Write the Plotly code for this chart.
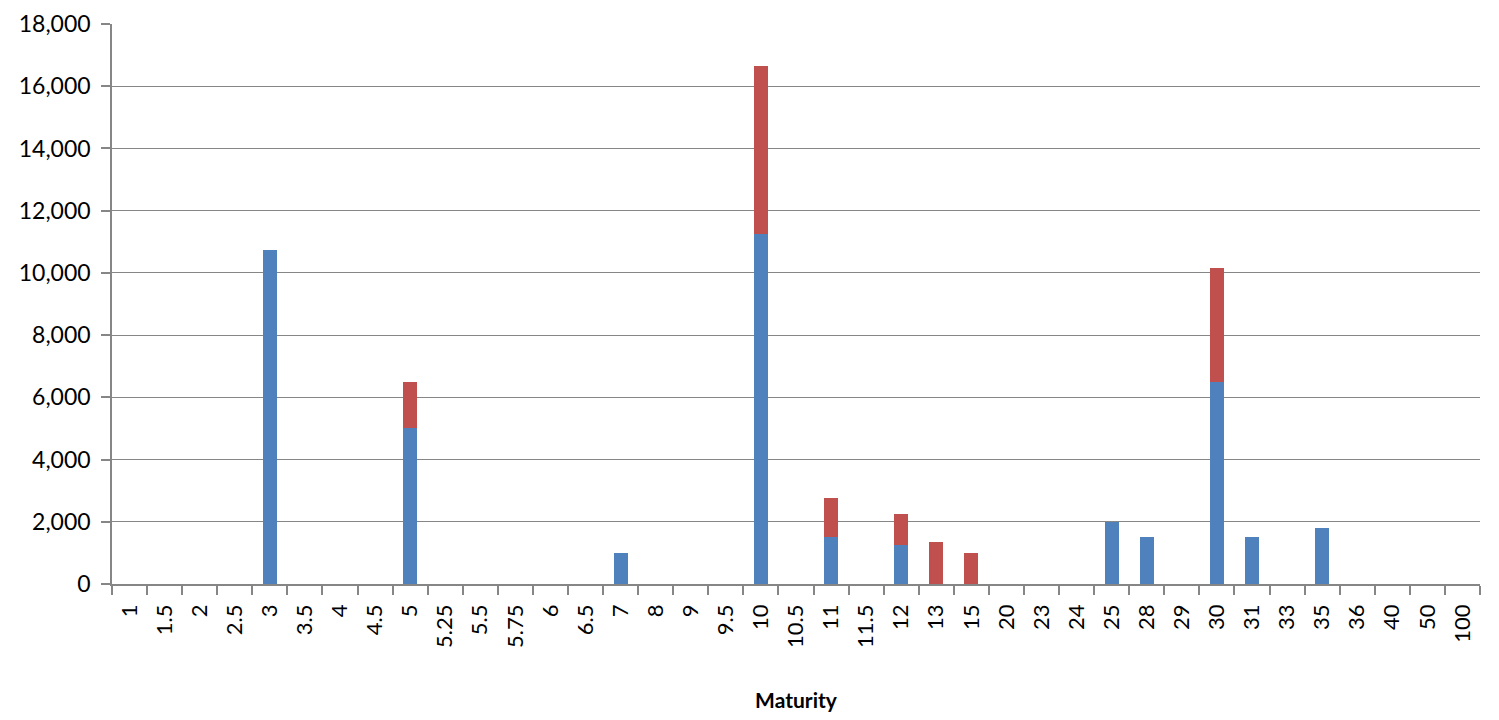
import plotly.graph_objects as go

categories = ["1", "1.5", "2", "2.5", "3", "3.5", "4", "4.5", "5", "5.25", "5.5", "5.75",
              "6", "6.5", "7", "8", "9", "9.5", "10", "10.5", "11", "11.5", "12", "13",
              "15", "20", "23", "24", "25", "28", "29", "30", "31", "33", "35", "36",
              "40", "50", "100"]

blue_values = {"3": 10750, "5": 5000, "7": 1000, "10": 11250, "11": 1500, "12": 1250,
               "25": 2000, "28": 1500, "30": 6500, "31": 1500, "35": 1800}
red_values = {"5": 1500, "10": 5400, "11": 1250, "12": 1000, "13": 1350, "15": 1000,
              "30": 3650}

blue = [blue_values.get(c, 0) for c in categories]
red = [red_values.get(c, 0) for c in categories]

tick_vals = list(range(0, 18001, 2000))
tick_text = [f"{v:,}" for v in tick_vals]

FONT = "Lato"
GRID = "#868686"

fig = go.Figure()
fig.add_trace(go.Bar(x=categories, y=blue, marker=dict(color="#4F81BD", line=dict(width=0)),
                     name="Series 1"))
fig.add_trace(go.Bar(x=categories, y=red, marker=dict(color="#C0504D", line=dict(width=0)),
                     name="Series 2"))

fig.update_layout(
    barmode="stack",
    bargap=0.6,
    width=1483, height=704,
    paper_bgcolor="white", plot_bgcolor="white",
    margin=dict(l=104, r=11, t=16, b=128, autoexpand=False),
    showlegend=False,
    font=dict(family=FONT, color="black"),
    xaxis=dict(
        type="category",
        tickangle=-90,
        tickfont=dict(size=22, family=FONT),
        ticklabelstandoff=10,
        showline=True, linecolor=GRID, linewidth=1.5,
        ticks="outside", ticklen=9, tickcolor=GRID, tickwidth=1.5,
        tickson="boundaries",
        showgrid=False,
        automargin=False,
        title=dict(text="<b>Maturity</b>", font=dict(size=21, family=FONT), standoff=52),
    ),
    yaxis=dict(
        range=[0, 18000],
        tickvals=tick_vals, ticktext=tick_text,
        tickfont=dict(size=23, family=FONT),
        ticklabelstandoff=6,
        showline=True, linecolor=GRID, linewidth=1.5,
        ticks="outside", ticklen=9, tickcolor=GRID, tickwidth=1.5,
        showgrid=True, gridcolor=GRID, gridwidth=1.4,
        zeroline=False,
        automargin=False,
    ),
)

fig.write_html("out.html")
